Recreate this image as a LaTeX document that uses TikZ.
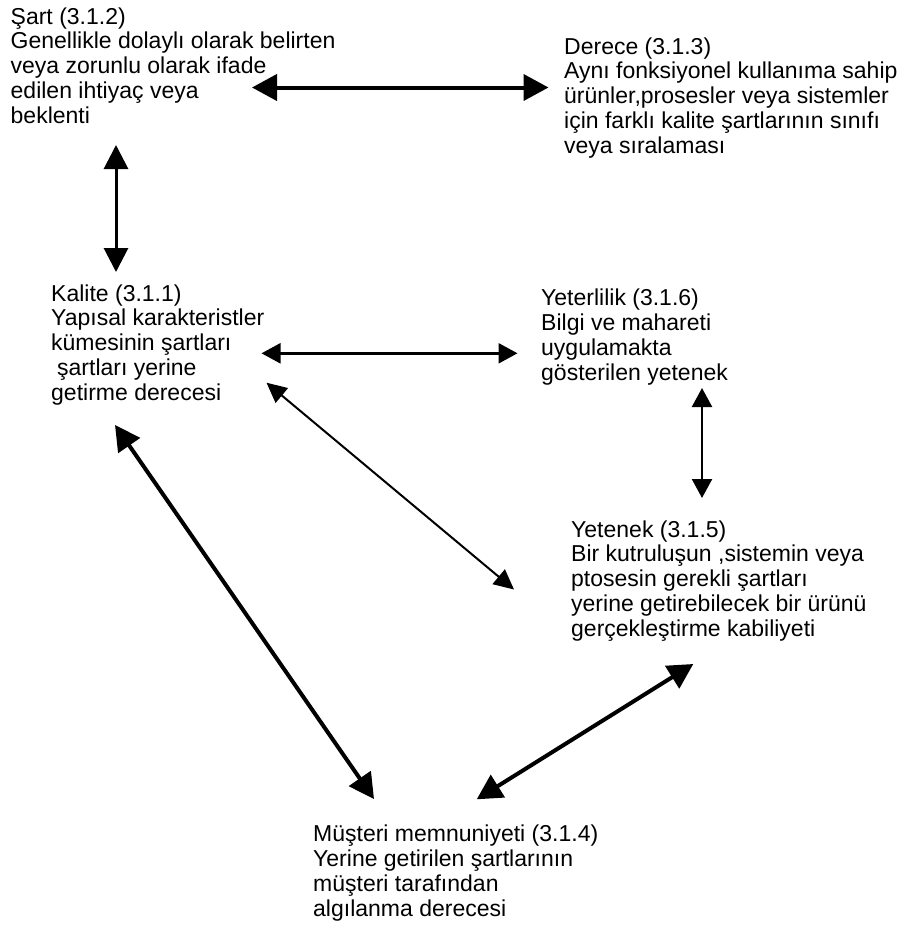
\documentclass[tikz,border=0pt]{standalone}
\usepackage{fontspec}
\setmainfont{Liberation Sans}
\usetikzlibrary{arrows.meta}
\begin{document}
\begin{tikzpicture}[x=1pt,y=-1pt,
  txt/.style={anchor=base west, align=left, inner sep=0pt, font=\fontsize{23}{24.7}\selectfont},
  bigarrow/.style={line width=4pt, {Triangle[length=25pt,width=26pt]}-{Triangle[length=25pt,width=26pt]}},
  midarrow/.style={line width=3pt, {Triangle[length=24pt,width=24pt]}-{Triangle[length=24pt,width=24pt]}},
  smallarrow/.style={line width=2.4pt, {Triangle[length=19pt,width=20pt]}-{Triangle[length=19pt,width=20pt]}},
  thinarrow/.style={line width=2pt, {Triangle[length=20pt,width=19pt]}-{Triangle[length=20pt,width=19pt]}}]
\useasboundingbox (0,0) rectangle (899,926);
\fill[white] (0,0) rectangle (899,926);

% anchors are at the baseline of the last line of each block
\node[txt] (sart) at (10.5,123) {Şart (3.1.2)\\Genellikle dolaylı olarak belirten\\veya zorunlu olarak ifade\\edilen ihtiyaç veya\\beklenti};
\node[txt] (derece) at (564,153) {Derece (3.1.3)\\Aynı fonksiyonel kullanıma sahip\\ürünler,prosesler veya sistemler\\için farklı kalite şartlarının sınıfı\\veya sıralaması};
\node[txt] (kalite) at (51,400) {Kalite (3.1.1)\\Yapısal karakteristler\\kümesinin şartları\\\hspace*{6pt}şartları yerine\\getirme derecesi};
\node[txt] (yeterlilik) at (541,380) {Yeterlilik (3.1.6)\\Bilgi ve mahareti\\uygulamakta\\gösterilen yetenek};
\node[txt] (yetenek) at (571,636) {Yetenek (3.1.5)\\Bir kutruluşun ,sistemin veya\\ptosesin gerekli şartları\\yerine getirebilecek bir ürünü\\gerçekleştirme kabiliyeti};
\node[txt] (musteri) at (313,916) {Müşteri memnuniyeti (3.1.4)\\Yerine getirilen şartlarının\\müşteri tarafından\\algılanma derecesi};

\coordinate (sartR) at (252,87.5);
\coordinate (dereceL) at (548.5,87.5);
\coordinate (sartB) at (116,145);
\coordinate (kaliteT) at (116,272);
\coordinate (kaliteR) at (261.5,353.3);
\coordinate (yeterL) at (517.5,353.3);
\coordinate (kaliteD) at (266.5,382.7);
\coordinate (yetenekL) at (514,589.5);
\coordinate (kaliteB) at (115,425);
\coordinate (musteriL) at (374,799);
\coordinate (yetenekB) at (693.3,664);
\coordinate (musteriR) at (476.7,799.3);
\coordinate (yeterB) at (702,388);
\coordinate (yetenekT) at (702,498);

\draw[bigarrow] (sartR) -- (dereceL);
\draw[midarrow] (sartB) -- (kaliteT);
\draw[smallarrow] (kaliteR) -- (yeterL);
\draw[thinarrow] (kaliteD) -- (yetenekL);
\draw[bigarrow] (kaliteB) -- (musteriL);
\draw[bigarrow] (yetenekB) -- (musteriR);
\draw[smallarrow] (yeterB) -- (yetenekT);
\end{tikzpicture}
\end{document}
